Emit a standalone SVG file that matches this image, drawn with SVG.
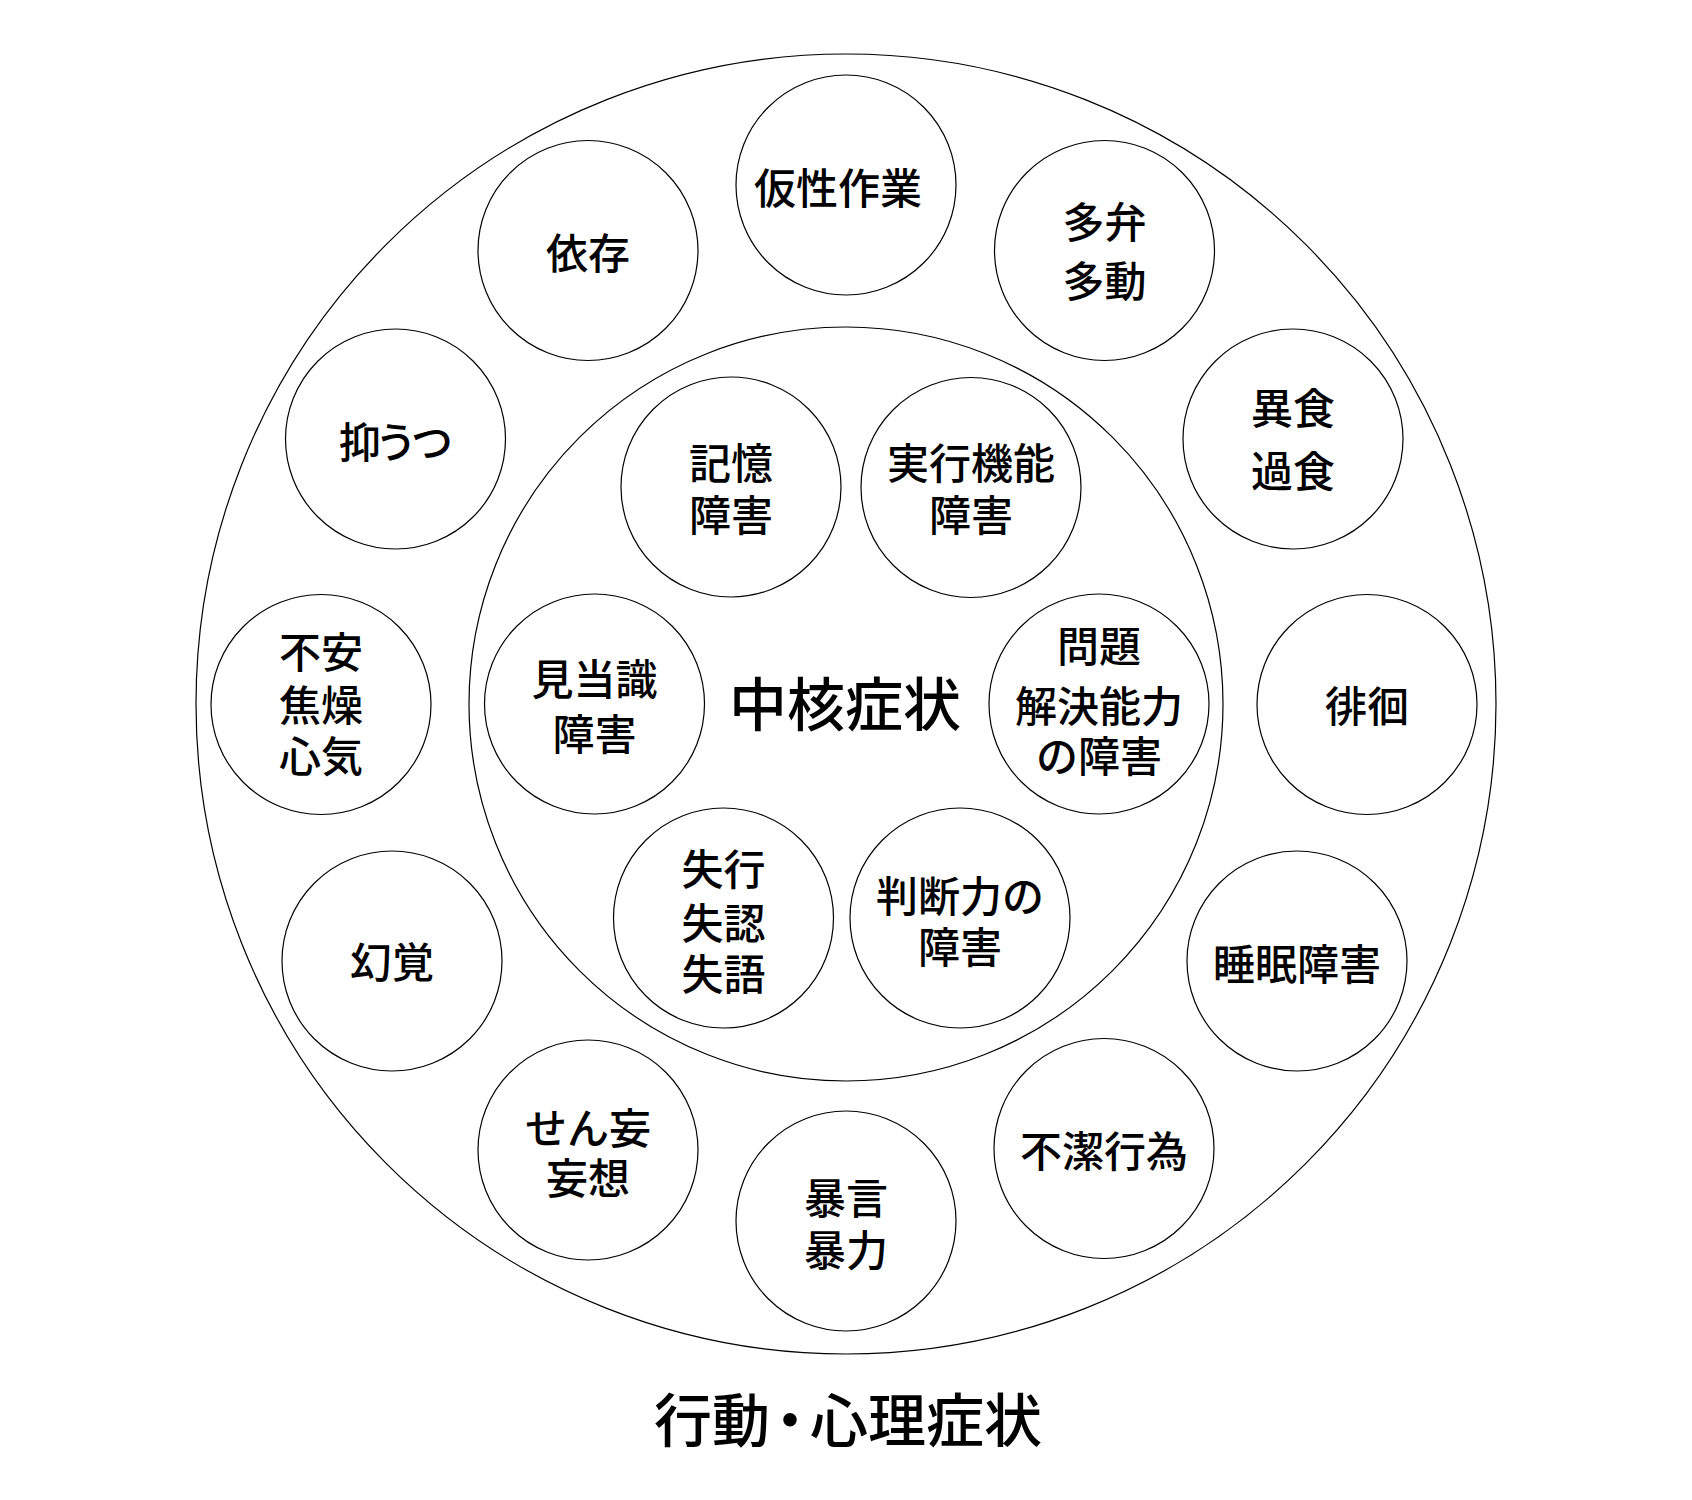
<svg xmlns="http://www.w3.org/2000/svg" width="1692" height="1500" viewBox="0 0 1692 1500">
<style>
.bg{fill:#fff}
.ring{fill:none;stroke:#000;stroke-width:1.2}
.node{fill:#fff;stroke:#000;stroke-width:1.2}
.t{font-family:"Noto Sans CJK JP","Noto Sans CJK SC",sans-serif;font-size:42px;font-weight:500;fill:#000;text-anchor:middle}
.big{font-size:58px}
</style>
<rect class="bg" x="0" y="0" width="1692" height="1500"/>
<g id="outer-ring"><circle class="ring" cx="846" cy="704" r="650"/></g>
<g id="inner-ring"><circle class="ring" cx="846" cy="704" r="377"/></g>
<g id="connectors"></g>

<g id="n-kasei"><circle class="node" cx="846" cy="185" r="110"/><text class="t" x="838" y="203.5">仮性作業</text></g>
<g id="n-tabenn"><circle class="node" cx="1104.5" cy="250.5" r="110"/><text class="t" x="1104.5" y="238">多弁</text><text class="t" x="1104.5" y="296.5">多動</text></g>
<g id="n-ishoku"><circle class="node" cx="1293" cy="439" r="110"/><text class="t" x="1293" y="423.5">異食</text><text class="t" x="1293" y="487">過食</text></g>
<g id="n-haikai"><circle class="node" cx="1367" cy="704.5" r="110"/><text class="t" x="1367" y="722">徘徊</text></g>
<g id="n-suimin"><circle class="node" cx="1297" cy="961" r="110"/><text class="t" x="1297" y="980">睡眠障害</text></g>
<g id="n-fuketsu"><circle class="node" cx="1104" cy="1148.5" r="110"/><text class="t" x="1104" y="1167">不潔行為</text></g>
<g id="n-bougen"><circle class="node" cx="846" cy="1221" r="110"/><text class="t" x="846" y="1214">暴言</text><text class="t" x="846" y="1266">暴力</text></g>
<g id="n-senmou"><circle class="node" cx="588" cy="1150" r="110"/><text class="t" x="588" y="1143.5">せん妄</text><text class="t" x="588" y="1194">妄想</text></g>
<g id="n-genkaku"><circle class="node" cx="392" cy="961" r="110"/><text class="t" x="392" y="978">幻覚</text></g>
<g id="n-fuan"><circle class="node" cx="321" cy="704.5" r="110"/><text class="t" x="321" y="668">不安</text><text class="t" x="321" y="721">焦燥</text><text class="t" x="321" y="771.5">心気</text></g>
<g id="n-yokuutsu"><circle class="node" cx="395.5" cy="439" r="110"/><text class="t" x="396" y="458" textLength="114">抑うつ</text></g>
<g id="n-izon"><circle class="node" cx="588" cy="250.5" r="110"/><text class="t" x="588" y="268.5">依存</text></g>

<g id="n-kioku"><circle class="node" cx="731" cy="487" r="110"/><text class="t" x="731" y="479">記憶</text><text class="t" x="731" y="531">障害</text></g>
<g id="n-jikkou"><circle class="node" cx="971" cy="487.5" r="110"/><text class="t" x="971" y="479">実行機能</text><text class="t" x="971" y="531">障害</text></g>
<g id="n-mondai"><circle class="node" cx="1099" cy="704" r="110"/><text class="t" x="1099" y="662">問題</text><text class="t" x="1099" y="722">解決能力</text><text class="t" x="1099" y="772">の障害</text></g>
<g id="n-handan"><circle class="node" cx="960" cy="918" r="110"/><text class="t" x="960" y="912">判断力の</text><text class="t" x="960" y="963">障害</text></g>
<g id="n-shikkou"><circle class="node" cx="723.5" cy="918" r="110"/><text class="t" x="723.5" y="885">失行</text><text class="t" x="723.5" y="939">失認</text><text class="t" x="723.5" y="989.5">失語</text></g>
<g id="n-kentoushiki"><circle class="node" cx="594.5" cy="704" r="110"/><text class="t" x="594.5" y="695">見当識</text><text class="t" x="594.5" y="750">障害</text></g>

<g id="core-label"><text class="t big" x="845" y="726">中核症状</text></g>
<g id="title"><text class="t big" x="848" y="1442">行動<tspan dx="-9">・</tspan><tspan dx="-9">心理症状</tspan></text></g>
</svg>
